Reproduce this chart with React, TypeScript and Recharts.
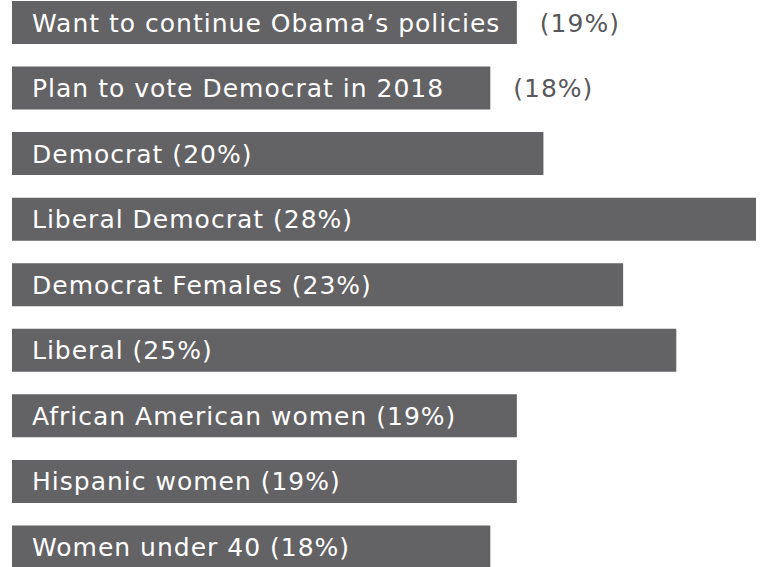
import { BarChart, Bar, XAxis, YAxis, LabelList } from "recharts"

const CATEGORIES = [
  "Want to continue Obama’s policies",
  "Plan to vote Democrat in 2018",
  "Democrat",
  "Liberal Democrat",
  "Democrat Females",
  "Liberal",
  "African American women",
  "Hispanic women",
  "Women under 40",
]
const VALUES = [19, 18, 20, 28, 23, 25, 19, 19, 18]
// percentage drawn outside the bar instead of after the name
const PCT_OUTSIDE = [true, true, false, false, false, false, false, false, false]

const BAR = "#636264"
const FONT = "'DejaVu Sans', sans-serif"

const data = CATEGORIES.map((name, i) => ({ name, value: VALUES[i], outside: PCT_OUTSIDE[i] }))

function BarLabel(props: any) {
  const { x, y, width, height, index } = props
  const d = data[index]
  const cy = y + height / 2
  const inside = d.outside ? d.name : `${d.name} (${d.value}%)`
  return (
    <g>
      <text x={x + 20} y={cy} dy="0.36em" fill="#fff" fontSize={25} letterSpacing={1} fontFamily={FONT}>
        {inside}
      </text>
      {d.outside && (
        <text x={x + width + 23} y={cy} dy="0.36em" fill="#58585a" fontSize={25} letterSpacing={1} fontFamily={FONT}>
          ({d.value}%)
        </text>
      )}
    </g>
  )
}

export default function App() {
  return (
    <div style={{ position: "absolute", left: 0, top: -10, width: 763, height: 590 }}>
      <BarChart
        width={763}
        height={590}
        data={data}
        layout="vertical"
        margin={{ top: 0, right: 7, left: 12, bottom: 0 }}
        barSize={43}
      >
        <XAxis type="number" domain={[0, 28]} hide />
        <YAxis type="category" dataKey="name" hide />
        <Bar dataKey="value" fill={BAR} isAnimationActive={false}>
          <LabelList dataKey="value" content={BarLabel} />
        </Bar>
      </BarChart>
    </div>
  )
}
